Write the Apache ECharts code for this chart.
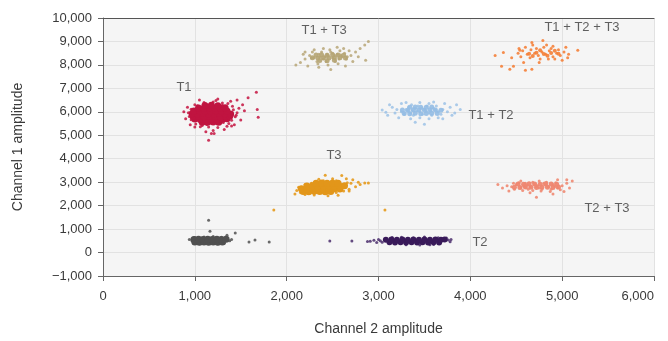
<!DOCTYPE html>
<html>
<head>
<meta charset="utf-8">
<script src="https://cdn.jsdelivr.net/npm/echarts@6/dist/echarts.min.js"></script>
<style>
  html, body { margin: 0; padding: 0; background: #fff; }
  #chart { width: 668px; height: 341px; }
</style>
</head>
<body>
<div id="chart"></div>
<script>
// droplet amplitudes, [channel 2, channel 1]
// *Core = dense middle of a cluster (drawn with overlapping dots), *Spread = the loose droplets round it
var t1Core = [
  [1080,5560],[1140,5550],[1200,5570],[1260,5550],
  [1000,5690],[1060,5670],[1120,5680],[1180,5690],[1240,5670],[1300,5680],[1350,5700],
  [980,5800],[1040,5810],[1100,5790],[1160,5800],[1220,5810],[1280,5790],[1340,5800],[1380,5810],
  [970,5920],[1030,5910],[1090,5930],[1150,5920],[1210,5910],[1270,5930],[1330,5920],[1390,5910],
  [990,6040],[1050,6050],[1110,6030],[1170,6040],[1230,6050],[1290,6030],[1350,6040],
  [1040,6160],[1100,6150],[1160,6170],[1220,6160],[1280,6150],[1330,6170],
  [1110,6270],[1180,6280],[1250,6260]
];
var t1Spread = [
  [1010,5480],[1130,5460],[1250,5490],[1310,5540],[1370,5500],[960,5660],[1400,5640],[940,5800],
  [1440,5790],[1460,5960],[930,5960],[960,6110],[1420,6090],[1030,6260],[1300,6280],[1410,6240],
  [1100,6400],[1200,6420],[1300,6380],[1390,6450],[1250,6550],[1460,6500],[1520,6300],[1480,6150],
  [1540,6050],[1150,5350],[1250,5330],[1060,5360],[1350,5380],[1200,5200],[1120,5150],[1320,5250],
  [900,5700],[880,6000],[920,6200],[1500,5650],[1430,5450],[1000,5350],[1150,4790],[1180,5080],
  [1210,5080],[1670,6830],[1680,6100],[1690,5770],[1580,6600],[1050,6500],[950,5450],[1360,6350],
  [1000,6300],[1450,5850],[1400,5400],[1080,5420],[1230,6480]
];
var t1t3Core = [
  [2280,8300],[2340,8290],[2400,8310],[2460,8290],[2520,8310],[2580,8300],[2640,8290],
  [2320,8420],[2380,8430],[2440,8410],[2500,8430],[2560,8420],[2620,8410],
  [2360,8190],[2440,8180],[2520,8200]
];
var t1t3Spread = [
  [2300,8300],[2350,8450],[2400,8250],[2450,8400],[2500,8300],[2550,8450],[2600,8350],[2650,8250],
  [2380,8550],[2480,8550],[2580,8600],[2330,8150],[2430,8150],[2530,8150],[2630,8500],[2700,8400],
  [2250,8400],[2200,8250],[2280,8550],[2420,8350],[2520,8400],[2570,8250],[2470,8650],[2360,8350],
  [2680,8600],[2750,8550],[2800,8700],[2850,8850],[2890,9000],[2150,8100],[2100,8000],[2230,7950],
  [2350,7900],[2450,8000],[2560,8050],[2640,7950],[2720,8150],[2780,8350],[2400,8700],[2300,8650],
  [2550,8750],[2200,8550],[2480,7800],[2620,8700],[2340,8050],[2500,8500],[2440,8450],[2590,8420],
  [2270,8300],[2660,8350],[2860,8200],[2180,8450]
];
var t1t2t3Core = [
  [4640,8480],[4720,8520],[4800,8470],[4880,8510],[4960,8480],[4680,8380],[4840,8390],[4760,8620],[4920,8600]
];
var t1t2t3Spread = [
  [4520,8500],[4570,8600],[4620,8450],[4660,8650],[4700,8500],[4740,8400],[4780,8550],[4820,8450],
  [4860,8600],[4900,8350],[4940,8500],[4980,8400],[5020,8550],[5060,8300],[4550,8350],[4600,8750],
  [4650,8300],[4720,8700],[4760,8250],[4800,8750],[4850,8250],[4880,8700],[4920,8250],[4960,8650],
  [5000,8200],[5040,8750],[5070,8450],[4530,8700],[4680,8850],[4830,8850],[4270,8400],[4360,8530],
  [4540,8620],[4670,8960],[4790,9040],[5170,8620],[4340,7940],[4430,7810],[4470,7940],[4600,7770],
  [4670,7810],[4580,8100],[4750,8100],[4450,8300],[4900,8800]
];
var t1t2Core = [
  [3280,5930],[3340,5920],[3400,5940],[3460,5920],[3520,5930],[3580,5940],[3640,5930],
  [3260,6080],[3320,6070],[3380,6090],[3440,6080],[3500,6070],[3560,6090],[3620,6080],[3680,6070],
  [3340,6200],[3400,6210],[3460,6190],[3520,6200],[3580,6210]
];
var t1t2Spread = [
  [3250,6000],[3300,6100],[3350,5950],[3400,6150],[3450,6000],[3500,6100],[3550,5950],[3600,6150],
  [3650,6000],[3700,6100],[3280,5900],[3330,6200],[3380,5850],[3430,6250],[3480,5900],[3530,6250],
  [3580,5850],[3630,6250],[3680,5900],[3320,6050],[3420,6050],[3520,6020],[3620,6080],[3370,6050],
  [3470,6150],[3570,6050],[3200,6100],[3180,5950],[3150,6200],[3750,6000],[3780,6200],[3800,5850],
  [3850,6300],[3890,6100],[3040,6080],[3100,5850],[3120,6300],[3220,5750],[3350,5700],[3450,5750],
  [3550,5700],[3650,5750],[3500,5470],[3400,5550],[3300,6400],[3450,6400],[3600,6420],[3720,6350],
  [3250,6350],[3080,5980],[3700,5700],[3830,5950],[3550,6350],[3360,6300]
];
var t3Core = [
  [2180,2600],[2240,2590],[2300,2610],[2360,2600],[2420,2590],[2480,2600],
  [2160,2720],[2220,2710],[2280,2730],[2340,2720],[2400,2710],[2460,2730],[2520,2720],[2580,2710],
  [2220,2840],[2280,2850],[2340,2830],[2400,2840],[2460,2850],[2520,2840],[2580,2830],[2630,2850],
  [2320,2950],[2380,2960],[2440,2950],[2500,2960],[2560,2950]
];
var t3Spread = [
  [2110,2650],[2090,2500],[2130,2780],[2150,2560],[2200,2480],[2300,2450],[2450,2420],[2560,2440],
  [2540,2560],[2620,2620],[2680,2700],[2700,2950],[2750,2800],[2720,3100],[2780,3000],[2850,2960],
  [2890,2960],[2650,3150],[2500,3150],[2350,3120],[2420,3300],[2600,3280],[2800,2900],[2680,2620],
  [2660,2980],[2270,2950],[2200,2900],[2540,3060],[2400,3060],[3070,1810],[1860,1810]
];
var t2t3Core = [
  [4480,2780],[4540,2770],[4600,2790],[4660,2780],[4720,2770],[4780,2790],[4840,2780],[4900,2770],[4960,2790],
  [4520,2920],[4580,2910],[4640,2930],[4700,2920],[4760,2910],[4820,2930],[4880,2920],[4940,2910]
];
var t2t3Spread = [
  [4450,2800],[4500,2900],[4550,2750],[4600,2950],[4650,2800],[4700,2900],[4750,2750],[4800,2950],
  [4850,2800],[4900,2900],[4950,2750],[5000,2850],[4480,2700],[4530,2980],[4580,2850],[4630,2700],
  [4680,3000],[4730,2850],[4780,2700],[4830,3000],[4880,2700],[4930,2980],[4980,2680],[4470,2950],
  [4620,2880],[4720,2800],[4820,2880],[4920,2820],[4570,2650],[4770,2620],[4870,2600],[5050,2950],
  [5080,2750],[5110,3050],[5050,3100],[4400,2850],[4350,2750],[4300,2900],[4420,2620],[4650,2550],
  [4720,2360],[4900,2500],[4550,3050],[4750,3050],[4950,3100],[5020,2600],[4680,2650],[4600,2780]
];
var negCore = [
  [1000,450],[1050,440],[1100,450],[1150,440],[1200,450],[1250,440],[1300,450],
  [990,560],[1040,570],[1090,560],[1140,570],[1190,560],[1240,570],[1290,560],[1340,570]
];
var negSpread = [
  [970,500],[1380,500],[1360,620],[1100,660],[1200,680],[1320,400],[1050,380],[1250,370],[940,560],
  [1400,560],[1150,1380],[1165,910],[1350,740],[1440,830],[1590,450],[1655,530],[1810,450],[1000,640],
  [1290,650]
];
var t2Core = [
  [3120,440],[3180,430],[3240,440],[3300,430],[3360,440],[3420,430],[3480,440],[3540,430],[3600,440],[3660,430],
  [3080,550],[3140,560],[3200,550],[3260,560],[3320,550],[3380,560],[3440,550],[3500,560],[3560,550],
  [3620,560],[3680,550],[3720,560]
];
var t2Spread = [
  [2910,480],[2950,520],[2980,430],[3000,560],[3020,500],[3040,440],[3760,540],[3780,460],[3790,560],
  [3740,620],[3300,330],[3450,320],[3600,340],[3250,650],[3500,660],[3650,630],[3150,640],[2470,490],
  [2710,490],[2880,470],[3380,620],[3560,330]
];

// cluster names and where they sit
var labelNames = ['T1', 'T1 + T3', 'T1 + T2 + T3', 'T1 + T2', 'T3', 'T2 + T3', 'T2'];
var labelPos = [[882,7030],[2407,9450],[5216,9577],[4225,5840],[2515,4140],[5488,1890],[4105,446]];

var xTicks = { min: 0, max: 6000, interval: 1000 };
var yTicks = { min: -1000, max: 10000, interval: 1000 };

var chart = echarts.init(document.getElementById('chart'), null, { renderer: 'canvas' });

var FONT = '"Liberation Sans", Arial, sans-serif';
var TXT = '#3a3a3a';

function cluster(name, data, color, size, opacity) {
    return {
        name: name,
        type: 'scatter',
        data: data,
        symbolSize: size,
        itemStyle: { color: color, opacity: opacity },
        silent: true
    };
}

var labelData = labelNames.map(function (n, i) {
    return { name: n, value: labelPos[i] };
});

function fmt(v) {
    return v < 0 ? '\u2212' + Math.abs(v).toLocaleString('en-US') : v.toLocaleString('en-US');
}

chart.setOption({
    animation: false,
    backgroundColor: '#ffffff',
    textStyle: { fontFamily: FONT },
    grid: {
        left: 103, right: 14, top: 18, bottom: 64,
        show: true, backgroundColor: '#f5f5f5', borderWidth: 0
    },
    xAxis: [{
        type: 'value',
        min: xTicks.min, max: xTicks.max, interval: xTicks.interval,
        name: 'Channel 2 amplitude',
        nameLocation: 'middle',
        nameGap: 46,
        nameTextStyle: { color: TXT, fontSize: 14, fontFamily: FONT },
        axisLine: { onZero: false, lineStyle: { color: '#666', width: 1 } },
        axisTick: { show: true, length: 5, lineStyle: { color: '#666' } },
        axisLabel: { color: TXT, fontSize: 13, fontFamily: FONT, margin: 14, alignMaxLabel: 'right', formatter: fmt },
        splitLine: { show: true, lineStyle: { color: '#e2e2e2', width: 1 } }
    }, {
        // top frame line only
        type: 'value', position: 'top',
        min: xTicks.min, max: xTicks.max, interval: xTicks.interval,
        axisLine: { show: true, onZero: false, lineStyle: { color: '#555', width: 1 } },
        axisTick: { show: false }, axisLabel: { show: false }, splitLine: { show: false }
    }],
    yAxis: {
        type: 'value',
        min: yTicks.min, max: yTicks.max, interval: yTicks.interval,
        name: 'Channel 1 amplitude',
        nameLocation: 'middle',
        nameGap: 78,
        nameTextStyle: { color: TXT, fontSize: 14, fontFamily: FONT },
        axisLine: { show: true, onZero: false, lineStyle: { color: '#666', width: 1 } },
        axisTick: { show: true, length: 5, lineStyle: { color: '#666' } },
        axisLabel: { color: TXT, fontSize: 13, fontFamily: FONT, margin: 11, formatter: fmt },
        splitLine: { show: true, lineStyle: { color: '#e2e2e2', width: 1 } }
    },
    series: [
        cluster('T1', t1Spread, '#c4133f', 3, 0.85),
        cluster('T1', t1Core, '#c01440', 7, 1),
        cluster('T1 + T3', t1t3Spread, '#b7a677', 3, 0.85),
        cluster('T1 + T3', t1t3Core, '#b5a473', 5, 0.9),
        cluster('T1 + T2 + T3', t1t2t3Spread, '#f5813a', 3, 0.9),
        cluster('T1 + T2 + T3', t1t2t3Core, '#f47e36', 4, 0.9),
        cluster('T1 + T2', t1t2Spread, '#9cc2e6', 3, 0.85),
        cluster('T1 + T2', t1t2Core, '#93bce4', 5, 0.9),
        cluster('T3', t3Spread, '#e59a1c', 3, 0.9),
        cluster('T3', t3Core, '#e2961a', 7, 1),
        cluster('T2 + T3', t2t3Spread, '#ef8a72', 3, 0.9),
        cluster('T2 + T3', t2t3Core, '#ee8670', 5, 0.95),
        cluster('Negative', negSpread, '#5a5a5a', 3, 0.9),
        cluster('Negative', negCore, '#505050', 7, 1),
        cluster('T2', t2Spread, '#4a2d6c', 3, 0.85),
        cluster('T2', t2Core, '#391a5a', 6, 1),
        {
            name: 'labels',
            type: 'scatter',
            data: labelData,
            symbolSize: 0,
            silent: true,
            label: {
                show: true, position: 'inside', formatter: '{b}',
                color: TXT, fontSize: 13, fontFamily: FONT
            }
        }
    ]
});
</script>
</body>
</html>
